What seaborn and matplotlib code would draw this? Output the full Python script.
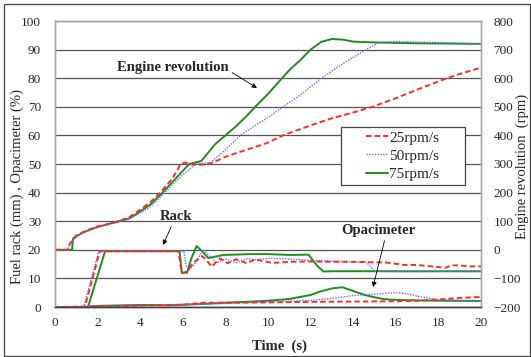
import numpy as np
import pandas as pd
import seaborn as sns
import matplotlib.pyplot as plt
from matplotlib.lines import Line2D
from matplotlib.patches import Rectangle
from matplotlib.legend_handler import HandlerLine2D

# --- datos ---
# Revolucion del motor (rpm), eje derecho
t_rev_25 = [0, 0.6, 0.7, 1.0, 1.5, 2.0, 2.5, 3.0, 3.5, 4.0, 4.5, 5.0, 5.5, 5.9, 6.1, 6.5, 7.0, 7.3,
            8.0, 8.5, 9.0, 9.5, 10.0, 10.7, 12.0, 13.0, 14.0, 14.9, 16.0, 17.0, 18.4, 19.0, 20.0]
rev_25 = [0, 0, 22, 50, 68, 82, 90, 100, 115, 140, 168, 205, 248, 300, 305, 298, 298, 302,
          325, 338, 350, 362, 375, 400, 435, 460, 480, 500, 530, 560, 600, 615, 637]

t_rev_50 = [0, 0.6, 0.7, 1.0, 1.5, 2.0, 2.5, 3.0, 3.5, 4.0, 4.5, 5.0, 5.5, 6.0, 6.6, 7.3, 8.0, 8.7,
            9.5, 10.0, 10.7, 11.5, 12.5, 13.5, 14.6, 15.2, 16.0, 18.0, 20.0]
rev_50 = [0, 0, 20, 48, 66, 80, 88, 98, 108, 128, 152, 188, 226, 262, 300, 305, 350, 400,
          440, 462, 500, 540, 600, 650, 700, 725, 728, 725, 720]

t_rev_75 = [0, 0.8, 0.85, 1.3, 2.0, 2.5, 3.0, 3.5, 4.0, 4.5, 5.0, 5.5, 6.0, 6.3, 6.85, 7.0, 7.5, 8.0,
            8.5, 9.0, 9.4, 10.0, 10.66, 11.0, 11.5, 12.0, 12.5, 13.0, 13.5, 14.0, 15.0, 17.0, 20.0]
rev_75 = [0, 0, 40, 60, 80, 90, 100, 110, 134, 160, 196, 236, 276, 300, 310, 322, 368, 400,
          432, 468, 500, 545, 600, 628, 662, 700, 727, 737, 735, 728, 725, 722, 720]

# Cremallera de combustible (mm), eje izquierdo
t_rack_25 = [0, 1.4, 2.1, 5.8, 5.9, 6.0, 6.2, 6.5, 6.9, 7.1, 7.35, 7.75, 8.1, 8.5, 9.0, 9.4, 9.8,
             10.2, 11.0, 12.0, 13.0, 14.0, 15.0, 15.5, 16.4, 17.0, 17.5, 18.0, 18.3, 18.6, 19.0, 19.5, 20.0]
rack_25 = [0, 0, 19.5, 19.5, 14.0, 11.8, 12.5, 15.5, 17.8, 16.5, 14.1, 17.0, 15.3, 16.7, 15.3, 16.7, 16.0,
           15.4, 15.8, 15.9, 15.8, 15.8, 15.6, 15.6, 14.7, 14.7, 14.3, 14.0, 13.6, 14.6, 14.5, 14.2, 14.2]

t_rack_50 = [0, 1.35, 2.05, 6.05, 6.15, 6.3, 6.6, 6.95, 7.3, 7.6, 8.0, 8.5, 9.0, 9.5, 10.0, 11.0,
             12.0, 13.0, 14.0, 14.6, 15.0, 16.0, 18.0, 20.0]
rack_50 = [0, 0, 19.5, 19.5, 14.5, 12.9, 15.5, 20.0, 17.5, 15.5, 16.8, 15.5, 16.8, 16.5, 17.0, 16.8,
           16.3, 16.0, 15.8, 15.8, 12.5, 12.4, 12.4, 12.4]

t_rack_75 = [0, 1.55, 2.35, 5.85, 5.95, 6.2, 6.4, 6.65, 6.9, 7.2, 7.9, 9.2, 10.0, 11.0, 11.9, 12.3,
             12.6, 13.0, 16.0, 20.0]
rack_75 = [0, 0, 19.5, 19.5, 12.0, 12.0, 17.0, 21.3, 19.5, 17.1, 18.2, 18.5, 18.5, 18.2, 18.3, 14.5,
           12.4, 12.5, 12.5, 12.5]

# Opacimetro (%), eje izquierdo
t_opa_25 = [0, 2, 4, 6, 7, 8, 10, 12, 14, 16, 17, 18, 19, 20]
opa_25 = [0, 0.2, 0.5, 0.8, 1.5, 1.5, 1.6, 1.8, 1.9, 2.0, 2.2, 2.6, 3.2, 3.5]

t_opa_50 = [0, 2, 4, 6, 8, 10, 12, 13, 14, 15, 16, 16.5, 17, 18, 19, 20]
opa_50 = [0, 0.3, 0.4, 0.8, 1.2, 1.8, 2.3, 3.0, 4.0, 4.5, 5.0, 4.7, 3.8, 2.5, 2.3, 2.2]

t_opa_75 = [0, 1.5, 2, 4, 5.5, 6, 7, 8, 9, 10, 11, 12, 12.4, 13, 13.5, 14, 14.5, 15, 15.5, 16, 17, 18, 20]
opa_75 = [0, 0, 0.4, 0.7, 0.6, 0.8, 1.1, 1.5, 1.8, 2.2, 2.8, 4.2, 5.3, 6.5, 6.9, 5.6, 4.3, 3.4, 2.7,
          2.5, 2.3, 2.2, 2.1]

etiquetas = ["25rpm/s", "50rpm/s", "75rpm/s"]
colores = ["#ff2a2a", "#6a6aff", "#1f8c1f"]

# --- estilo ---
sns.set_style("white")
plt.rcParams['font.family'] = ['Liberation Serif', 'DejaVu Serif']

fig = plt.figure(figsize=(5.31, 3.57), dpi=100)
ax = fig.add_axes([55 / 531, 1 - 307 / 357, 426 / 531, 286 / 357])
ax2 = ax.twinx()

estilos = [dict(color=colores[0], lw=1.4, dashes=(2.8, 1.6)),
           dict(color=colores[1], lw=1.0, dashes=(1, 1)),
           dict(color=colores[2], lw=1.4, linestyle='-')]

def trazar(eje, t, v, st):
    kw = dict(st)
    d = kw.pop('dashes', None)
    l = sns.lineplot(x=t, y=v, ax=eje, estimator=None, sort=False, **kw)
    if d is not None:
        l.lines[-1].set_dashes(d)

# cremallera y opacimetro en el eje izquierdo
for t, v, st in [(t_rack_75, rack_75, estilos[2]), (t_rack_50, rack_50, estilos[1]), (t_rack_25, rack_25, estilos[0]),
                 (t_opa_75, opa_75, estilos[2]), (t_opa_50, opa_50, estilos[1]), (t_opa_25, opa_25, estilos[0])]:
    trazar(ax, t, v, st)

# revolucion en el eje derecho
for t, v, st in [(t_rev_75, rev_75, estilos[2]), (t_rev_50, rev_50, estilos[1]), (t_rev_25, rev_25, estilos[0])]:
    trazar(ax2, t, v, st)

ax.set_xlim(0, 20)
ax.set_ylim(0, 100)
ax2.set_ylim(-200, 800)
ax.set_xticks(np.arange(0, 21, 2))
ax.set_yticks(np.arange(0, 101, 10))
ax2.set_yticks(np.arange(-200, 801, 100))

# rejilla horizontal
ax.yaxis.grid(True, color="#555555", lw=0.9)
ax.xaxis.grid(False)
ax2.grid(False)

for e in (ax, ax2):
    for s in ("left", "top", "right"):
        e.spines[s].set_color("#a8a8a8")
        e.spines[s].set_linewidth(1.0)
    e.spines["bottom"].set_color("#444444")
    e.spines["bottom"].set_linewidth(1.0)

ax.tick_params(axis='x', direction='in', length=4, width=0.8, color="#444444", labelsize=9.5, pad=7)
ax.tick_params(axis='y', length=0, labelsize=9.5, pad=10)
ax2.tick_params(axis='y', length=0, labelsize=9.5, pad=9)
ax.set_xlabel("")
ax.set_ylabel("")
ax2.set_ylabel("")

# etiquetas de ejes
fig.text(279 / 531, 1 - 346 / 357, "Time  (s)", ha='center', va='center', fontsize=10.5, fontweight='bold')
fig.text(17 / 531, 1 - 187 / 357, "Fuel rack (mm) , Opacimeter (%)", rotation=90,
         ha='center', va='center', fontsize=10.5)
fig.text(522 / 531, 1 - 166 / 357, "Engine revolution  (rpm)", rotation=90,
         ha='center', va='center', fontsize=10.5)

# anotaciones
flecha = dict(arrowstyle='-|>', color='black', lw=0.6, mutation_scale=7, shrinkA=0, shrinkB=0)
ax.annotate("Engine revolution", xy=(9.48, 76.6), xytext=(5.54, 83.6), ha='center', va='center',
            fontsize=10.5, fontweight='bold', arrowprops=dict(flecha, relpos=(1.0, 0.3)), zorder=5)
ax.annotate("Rack", xy=(5.07, 21.7), xytext=(5.68, 31.5), ha='center', va='center',
            fontsize=10.5, fontweight='bold', arrowprops=dict(flecha, relpos=(0.4, 0.0)), zorder=5)
ax.annotate("Opacimeter", xy=(14.93, 7.0), xytext=(15.16, 26.6), ha='center', va='center',
            fontsize=10.5, fontweight='bold', arrowprops=dict(flecha, relpos=(0.6, 0.0)), zorder=5)


# linea de leyenda corta, pegada al texto
class LineaCorta(HandlerLine2D):
    def get_xdata(self, legend, xdescent, ydescent, width, height, fontsize):
        x0 = -xdescent + 0.5 * width
        return np.array([x0, -xdescent + width]), np.array([x0, -xdescent + width])


handles = [Line2D([0], [0], **{k: v for k, v in estilos[i].items() if k != 'dashes'}) for i in range(3)]
handles[0].set_dashes(estilos[0]['dashes'])
handles[1].set_dashes(estilos[1]['dashes'])
leg = ax2.legend(handles, etiquetas, loc='upper left', mode='expand',
                 bbox_to_anchor=((341 - 55) / 426, (307 - 185) / 286, 124 / 426, 58 / 286),
                 fontsize=11, frameon=True, fancybox=False, framealpha=1, edgecolor="#444444",
                 borderpad=0.25, labelspacing=0.3, handlelength=2.8, handletextpad=0.1,
                 borderaxespad=0, handler_map={Line2D: LineaCorta()})
leg.get_frame().set_linewidth(0.9)

# marco exterior
fig.add_artist(Rectangle((4 / 531, 1 / 357), 526 / 531, 352 / 357, transform=fig.transFigure,
                         fill=False, edgecolor="#444444", lw=0.9))

fig.savefig("out.png", dpi=100)
